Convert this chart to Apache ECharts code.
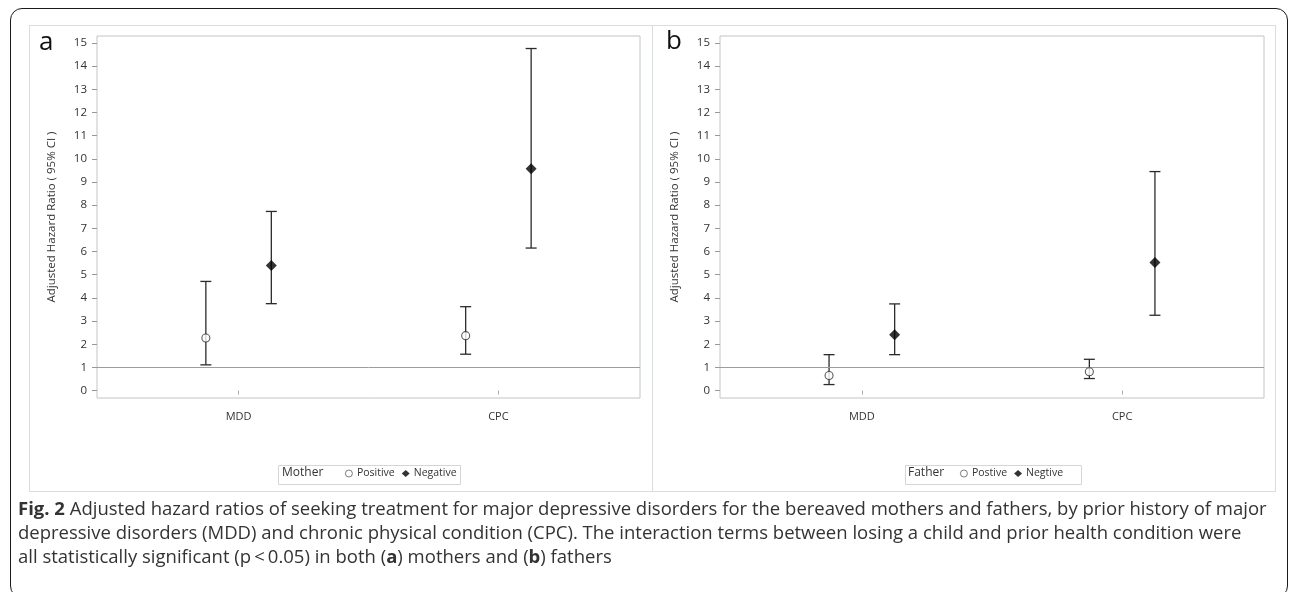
<!DOCTYPE html>
<html>
<head>
<meta charset="utf-8">
<script src="https://cdn.jsdelivr.net/npm/echarts@6/dist/echarts.min.js"></script>
<style>
  html, body { margin: 0; padding: 0; background: #fff; }
  body { width: 1290px; height: 592px; position: relative; overflow: hidden; font-family: 'Open Sans', sans-serif; }
  .frame { position: absolute; left: 10px; top: 8px; width: 1278px; height: 590px; border: 1.5px solid #1a1a1a; border-radius: 12px; box-sizing: border-box; }
  .panel { position: absolute; top: 25px; height: 467px; border: 1px solid #d9dddd; box-sizing: border-box; }
  #chart { position: absolute; left: 0; top: 0; width: 1290px; height: 592px; }
  .caption { position: absolute; left: 18px; font-size: 18.5px; color: #333; white-space: nowrap; line-height: 24px; }
</style>
</head>
<body>
<div class="frame"></div>
<div class="panel" style="left:29px;width:624px"></div>
<div class="panel" style="left:652px;width:624px"></div>
<div id="chart"></div>
<div class="caption" style="top:496px"><b>Fig. 2</b> Adjusted hazard ratios of seeking treatment for major depressive disorders for the bereaved mothers and fathers, by prior history of major</div>
<div class="caption" style="top:520px">depressive disorders (MDD) and chronic physical condition (CPC). The interaction terms between losing a child and prior health condition were</div>
<div class="caption" style="top:544px">all statistically significant (p&thinsp;&lt;&thinsp;0.05) in both (<b>a</b>) mothers and (<b>b</b>) fathers</div>
<script>
// categories on the x axis
const categories = ['MDD', 'CPC']
const yTicks = [0, 1, 2, 3, 4, 5, 6, 7, 8, 9, 10, 11, 12, 13, 14, 15]

// panel a: mothers
const motherPosHR = [2.27, 2.37]
const motherPosLow = [1.11, 1.57]
const motherPosHigh = [4.71, 3.62]
const motherNegHR = [5.40, 9.57]
const motherNegLow = [3.75, 6.15]
const motherNegHigh = [7.73, 14.76]

// panel b: fathers
const fatherPosHR = [0.65, 0.81]
const fatherPosLow = [0.26, 0.52]
const fatherPosHigh = [1.55, 1.35]
const fatherNegHR = [2.41, 5.53]
const fatherNegLow = [1.55, 3.25]
const fatherNegHigh = [3.74, 9.45]

const refValue = 1
const dodge = 0.126
const font = 'Open Sans'

const chart = echarts.init(document.getElementById('chart'))

function points(vals, shift) {
    return vals.map((v, i) => [i + 1 + shift, v])
}
function bars(low, high, shift) {
    return low.map((v, i) => [i + 1 + shift, v, high[i]])
}

function renderBar(params, api) {
    const x = api.value(0)
    const top = api.coord([x, api.value(2)])
    const bot = api.coord([x, api.value(1)])
    const cap = 5.5
    const style = { stroke: '#2b2b2b', lineWidth: 1.3 }
    return {
        type: 'group',
        children: [
            { type: 'line', shape: { x1: top[0], y1: top[1], x2: bot[0], y2: bot[1] }, style: style },
            { type: 'line', shape: { x1: top[0] - cap, y1: top[1], x2: top[0] + cap, y2: top[1] }, style: style },
            { type: 'line', shape: { x1: bot[0] - cap, y1: bot[1], x2: bot[0] + cap, y2: bot[1] }, style: style }
        ]
    }
}

function xAxis(idx) {
    return {
        type: 'value', gridIndex: idx, min: 0.455, max: 2.545,
        splitLine: { show: false },
        axisLine: { show: false },
        axisTick: { show: true, customValues: [1, 2], length: 4, lineStyle: { color: '#aaa' } },
        axisLabel: {
            customValues: [1, 2], margin: 13,
            formatter: v => categories[Math.round(v) - 1],
            fontFamily: font, fontSize: 11, color: '#333'
        }
    }
}
function yAxis(idx) {
    return {
        type: 'value', gridIndex: idx, min: -0.32, max: 15.3,
        name: 'Adjusted Hazard Ratio ( 95% CI )', nameLocation: 'middle', nameGap: 39,
        nameTextStyle: { fontFamily: font, fontSize: 11.5, color: '#333' },
        splitLine: { show: false },
        axisLine: { show: false },
        axisTick: { show: true, customValues: yTicks, length: 5, lineStyle: { color: '#999' } },
        axisLabel: { customValues: yTicks, margin: 10, fontFamily: font, fontSize: 11.5, color: '#333' }
    }
}

function scatter(name, idx, data, pos) {
    const s = {
        name: name, type: 'scatter', xAxisIndex: idx, yAxisIndex: idx, data: data,
        symbol: pos ? 'circle' : 'diamond',
        symbolSize: pos ? 8 : 11,
        itemStyle: pos ? { color: '#fff', borderColor: '#333', borderWidth: 1.1 } : { color: '#000' },
        z: 5
    }
    if (pos) {
        s.markLine = {
            silent: true, symbol: 'none', label: { show: false },
            lineStyle: { color: '#9a9e9e', width: 1, type: 'solid' },
            data: [{ yAxis: refValue }]
        }
    }
    return s
}
function errBar(idx, data) {
    return { type: 'custom', xAxisIndex: idx, yAxisIndex: idx, data: data, renderItem: renderBar, z: 3 }
}

function legendItems(names) {
    return [
        { name: names[0], itemStyle: { borderWidth: 0.8 } },
        { name: names[1] }
    ]
}
const legendBase = {
    padding: 0, itemWidth: 8, itemHeight: 7, itemGap: 7,
    textStyle: { fontFamily: font, fontSize: 10.5, color: '#333', padding: [0, 0, 0, -1] }
}

chart.setOption({
    animation: false,
    grid: [
        { left: 97, top: 36, width: 543, height: 362, show: true, borderColor: '#c2c6c6', borderWidth: 1 },
        { left: 720, top: 36, width: 544, height: 362, show: true, borderColor: '#c2c6c6', borderWidth: 1 }
    ],
    xAxis: [xAxis(0), xAxis(1)],
    yAxis: [yAxis(0), yAxis(1)],
    legend: [
        Object.assign({ data: legendItems(['Positive', 'Negative']), left: 345, top: 468 }, legendBase),
        Object.assign({ data: legendItems(['Postive', 'Negtive']), left: 960, top: 468 }, legendBase)
    ],
    graphic: [
        { type: 'rect', left: 276, top: 463, shape: { width: 182, height: 19 }, style: { fill: 'none', stroke: '#d2d6d6' } },
        { type: 'text', left: 282, top: 467, style: { text: 'Mother', font: '12px "Open Sans"', fill: '#333' } },
        { type: 'rect', left: 903, top: 463, shape: { width: 176, height: 19 }, style: { fill: 'none', stroke: '#d2d6d6' } },
        { type: 'text', left: 908, top: 467, style: { text: 'Father', font: '12px "Open Sans"', fill: '#333' } },
        { type: 'text', left: 39, top: 30, style: { text: 'a', font: '26px "Open Sans"', fill: '#111' } },
        { type: 'text', left: 666, top: 29, style: { text: 'b', font: '26px "Open Sans"', fill: '#111' } }
    ],
    series: [
        errBar(0, bars(motherPosLow, motherPosHigh, -dodge)),
        errBar(0, bars(motherNegLow, motherNegHigh, dodge)),
        scatter('Positive', 0, points(motherPosHR, -dodge), true),
        scatter('Negative', 0, points(motherNegHR, dodge), false),
        errBar(1, bars(fatherPosLow, fatherPosHigh, -dodge)),
        errBar(1, bars(fatherNegLow, fatherNegHigh, dodge)),
        scatter('Postive', 1, points(fatherPosHR, -dodge), true),
        scatter('Negtive', 1, points(fatherNegHR, dodge), false)
    ]
})
</script>
</body>
</html>
